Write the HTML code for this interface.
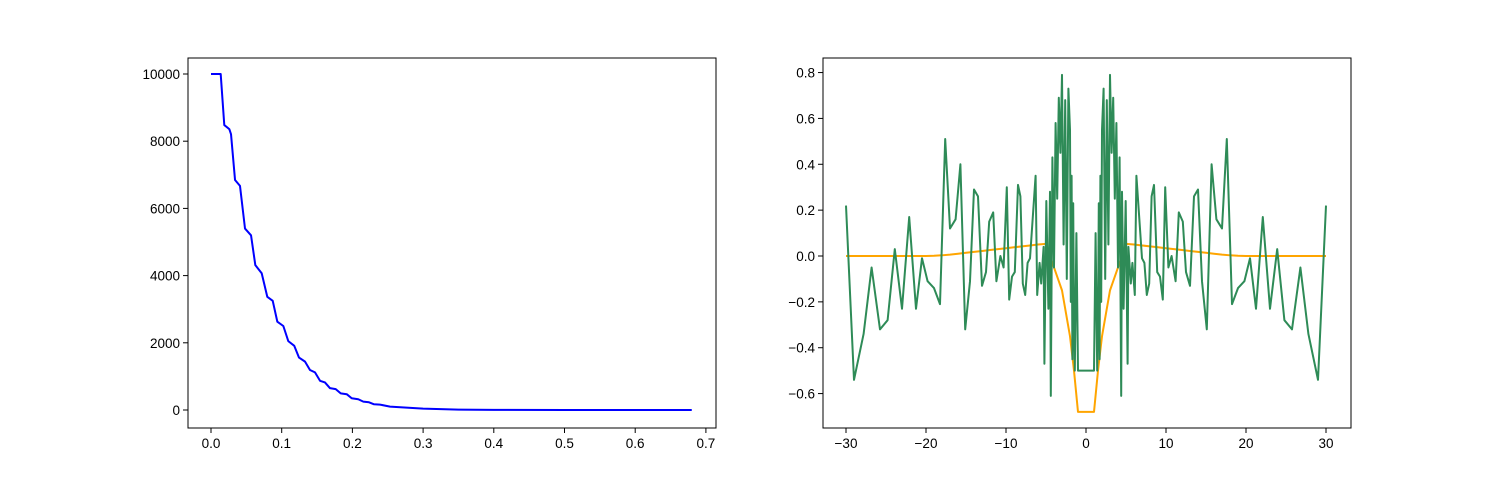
<!DOCTYPE html>
<html><head><meta charset="utf-8"><style>
body{margin:0;background:#fff}
svg{display:block;font-family:"Liberation Sans","DejaVu Sans",sans-serif;font-size:13.5px}
</style></head><body>
<svg id="c" width="1500" height="480" viewBox="0 0 1500 480"></svg>
<script>
const blueX=[0,0.0137,0.0188,0.0259,0.0283,0.034,0.041,0.0481,0.0566,0.0627,0.0717,0.0796,0.0873,0.0938,0.1023,0.1093,0.1178,0.1245,0.133,0.14,0.1471,0.1542,0.1612,0.1683,0.1764,0.1835,0.192,0.199,0.2083,0.2154,0.2235,0.2306,0.239,0.2532,0.3,0.35,0.4,0.5,0.68];
const blueY=[10000,10000,8480,8360,8210,6845,6670,5400,5200,4310,4070,3370,3250,2630,2500,2050,1910,1560,1440,1190,1120,870,820,650,620,495,470,350,320,250,230,170,160,100,40,12,4,0,0];
const leftXTicks=[0,0.1,0.2,0.3,0.4,0.5,0.6,0.7];
const leftYTicks=[0,2000,4000,6000,8000,10000];
// green: left half, mirrored for right half
const greenXHalf=[-30,-29,-27.8,-26.8,-25.75,-24.8,-23.9,-23,-22.1,-21.25,-20.5,-19.8,-19,-18.25,-17.6,-17,-16.3,-15.7,-15.1,-14.5,-14,-13.5,-13,-12.5,-12.1,-11.6,-11.2,-10.7,-10.3,-9.9,-9.6,-9.25,-8.9,-8.5,-8.2,-7.9,-7.6,-7.3,-7,-6.3,-6.1,-5.8,-5.6,-5.3,-5.2,-4.96,-4.7,-4.5,-4.4,-4.2,-4.0,-3.8,-3.6,-3.4,-3.2,-3.0,-2.8,-2.6,-2.4,-2.2,-2.0,-1.9,-1.8,-1.7,-1.6,-1.5,-1.4,-1.2,-1.0];
const greenYHalf=[0.22,-0.54,-0.34,-0.05,-0.32,-0.28,0.03,-0.23,0.17,-0.23,-0.01,-0.11,-0.14,-0.21,0.51,0.12,0.16,0.40,-0.32,-0.11,0.29,0.26,-0.13,-0.07,0.15,0.19,-0.11,0,-0.05,0.30,-0.19,-0.09,-0.07,0.31,0.26,-0.12,-0.17,-0.03,-0.01,0.35,-0.17,-0.03,-0.12,0.04,-0.47,0.24,-0.23,0.28,-0.61,0.43,-0.05,0.58,0.25,0.69,0.45,0.79,0.05,0.68,-0.1,0.73,0.55,-0.2,0.35,-0.45,0.23,-0.3,-0.5,0.1,-0.5];
const orangeXHalf=[-30,-20,-19,-18,-17,-16,-15,-14,-13,-12,-11,-10,-9,-8,-7,-6,-5,-4.5,-4,-3.5,-3,-2.5,-2,-1.5,-1];
const orangeYHalf=[0,0,0.001,0.003,0.006,0.01,0.014,0.018,0.022,0.026,0.03,0.034,0.038,0.042,0.046,0.05,0.053,0.0,-0.05,-0.1,-0.15,-0.25,-0.35,-0.5,-0.68];
const rightXTicks=[-30,-20,-10,0,10,20,30];
const rightYTicks=[-0.6,-0.4,-0.2,0,0.2,0.4,0.6,0.8];

const NS="http://www.w3.org/2000/svg",svg=document.getElementById('c');
function mk(t,a,p){const e=document.createElementNS(NS,t);for(const k in a)e.setAttribute(k,a[k]);(p||svg).appendChild(e);return e;}
function mirror(xs,ys){const X=xs.slice(),Y=ys.slice();for(let i=xs.length-1;i>=0;i--){X.push(-xs[i]);Y.push(ys[i]);}return [X,Y];}
function panel(name,box,sx,sy,xt,yt,fmtX,fmtY,series){
  const g=mk('g',{});
  
  
  series.forEach(s=>{
    const d=s.x.map((v,i)=>(i?'L':'M')+sx(v).toFixed(2)+','+sy(s.y[i]).toFixed(2)).join('');
    const p=mk('path',{d:d,fill:'none',stroke:s.c,'stroke-width':2,'stroke-linejoin':'round'},g);
    
    
  });
  const r=mk('rect',{x:box[0],y:box[1],width:box[2]-box[0],height:box[3]-box[1],fill:'none',stroke:'#000','stroke-width':1},g);
  
  
  xt.forEach(v=>{const x=sx(v);mk('line',{x1:x,x2:x,y1:box[3],y2:box[3]+5,stroke:'#000'},g);
    const t=mk('text',{x:x,y:box[3]+20,'text-anchor':'middle'},g);t.textContent=fmtX(v);
    
    });
  yt.forEach(v=>{const y=sy(v);mk('line',{x1:box[0]-5,x2:box[0],y1:y,y2:y,stroke:'#000'},g);
    const t=mk('text',{x:box[0]-8,y:y+5,'text-anchor':'end'},g);t.textContent=fmtY(v);
    
    });
}
panel('left-chart',[188,58,716,428],v=>211+v*707,v=>410-v*0.0336,leftXTicks,leftYTicks,v=>v.toFixed(1),v=>String(v),
  [{x:blueX,y:blueY,c:'#0000ff',n:'blue-decay-line'}]);
const [gx,gy]=mirror(greenXHalf,greenYHalf),[ox,oy]=mirror(orangeXHalf,orangeYHalf);
const fm=v=>(v<0?'\u2212':'')+Math.abs(v).toFixed(1);
panel('right-chart',[823,58,1351,428],v=>1086+v*8,v=>256-v*229.3,rightXTicks,rightYTicks,v=>(v<0?'\u2212':'')+Math.abs(v),fm,
  [{x:ox,y:oy,c:'#ffa500',n:'orange-line'},{x:gx,y:gy,c:'#2e8b57',n:'green-line'}]);
</script>
</body></html>
